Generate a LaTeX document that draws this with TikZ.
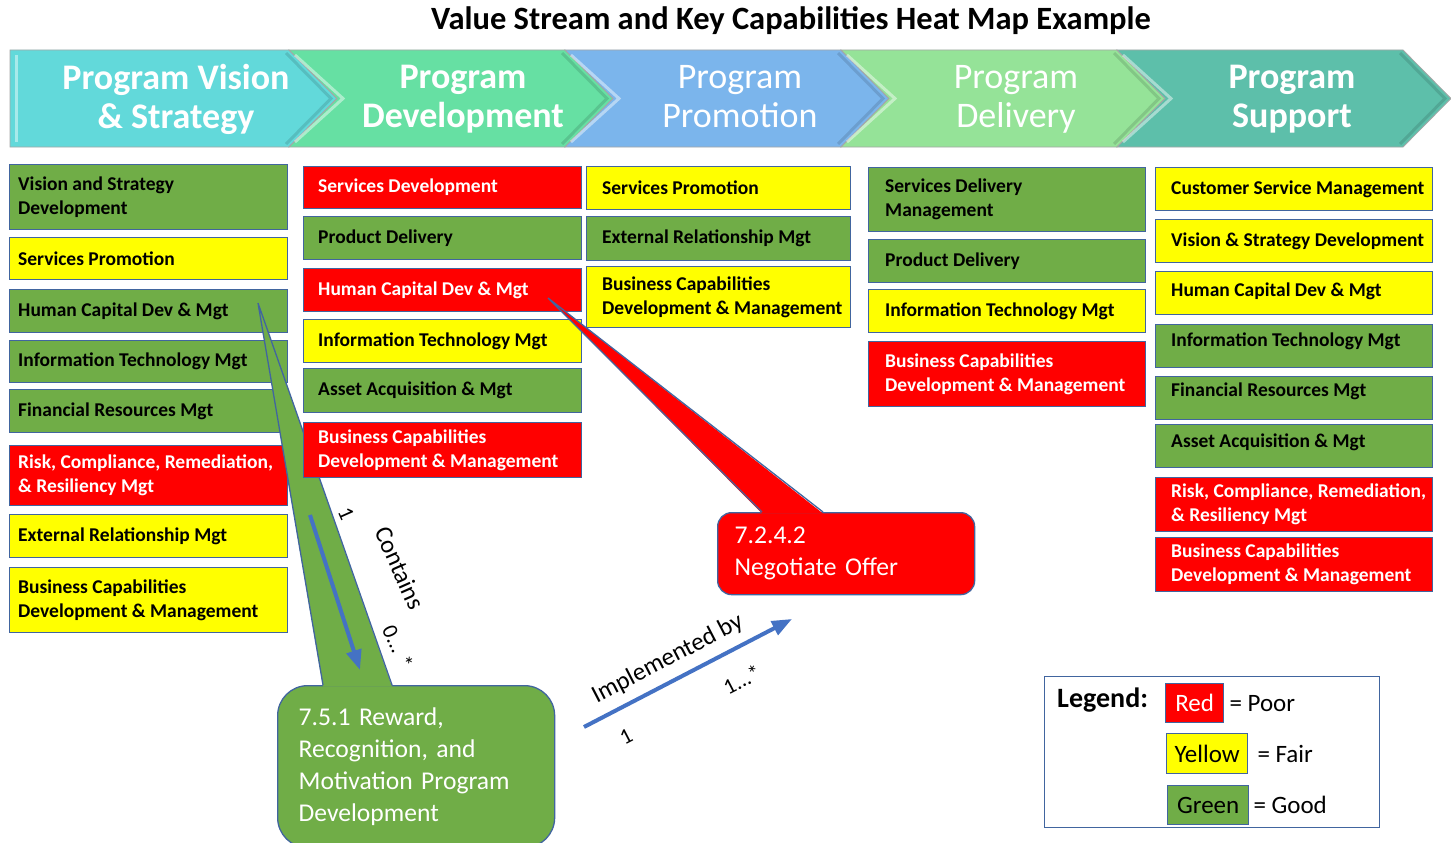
\documentclass[tikz,border=0pt]{standalone}
\usepackage{fontspec}
\setmainfont{Carlito}
\usetikzlibrary{arrows.meta, positioning, calc}
\definecolor{capred}{HTML}{FF0000}
\definecolor{capyellow}{HTML}{FFFF00}
\definecolor{capgreen}{HTML}{70AD47}
\definecolor{boxline}{HTML}{41659F}
\definecolor{arrowblue}{HTML}{4472C4}
\definecolor{chevA}{HTML}{62D9DA}
\definecolor{chevB}{HTML}{66E0A3}
\definecolor{chevC}{HTML}{7BB5EC}
\definecolor{chevD}{HTML}{95E398}
\definecolor{chevE}{HTML}{5DBFAA}
\tikzset{
  capbox/.style={draw=boxline, line width=1.3pt, anchor=north west, inner sep=0pt},
  captxt/.style={anchor=west, align=left, inner sep=0pt, draw=none, fill=none,
    font=\fontsize{19.5}{24}\selectfont\bfseries},
  gn/.style={fill=capgreen, text=black},
  yl/.style={fill=capyellow, text=black},
  rd/.style={fill=capred, text=white},
  stage/.style={text=white, align=center, inner sep=0pt},
  callout/.style={draw=boxline, line width=1.3pt, text=white, align=left,
    anchor=north west, inner ysep=0pt, font=\fontsize{25.6}{32}\selectfont},
  flow/.style={draw=arrowblue, line width=4pt, -{Triangle[length=20pt,width=15pt]}},
  lbl/.style={inner sep=0pt, font=\fontsize{25}{30}\selectfont},
  swatch/.style={draw=boxline, line width=1.3pt, anchor=north west, inner sep=0pt,
    font=\fontsize{25}{30}\selectfont},
}
\begin{document}
\begin{tikzpicture}[x=1pt,y=-1pt]
\useasboundingbox (0,0) rectangle (1451,843);
\clip (0,0) rectangle (1451,843);
\fill[white] (0,0) rectangle (1451,843);
\def\ytop{50}\def\ybot{147}\def\ymid{98.5}\def\dd{48}
\node[font=\fontsize{32.5}{38}\selectfont\bfseries] (title) at (791,21)
  {Value Stream and Key Capabilities Heat Map Example};
% value stream chevrons
\foreach \xl/\xr/\nd/\col/\tx/\fser/\txt [count=\i] in {
  10/289/0/chevA/176/\bfseries/{Program Vision\\\& Strategy},
  289/565/48/chevB/463/\bfseries/{Program\\Development},
  565/841/48/chevC/740/\mdseries/{Program\\Promotion},
  841/1117/48/chevD/1016/\mdseries/{Program\\Delivery},
  1117/1403/48/chevE/1292/\bfseries/{Program\\Support}}{
  \fill[\col, draw=black!35, line width=0.8pt] (\xl,\ytop) -- (\xr,\ytop) -- (\xr+\dd,\ymid)
    -- (\xr,\ybot) -- (\xl,\ybot) -- (\xl+\nd,\ymid) -- cycle;
  \draw[white, opacity=0.45, line width=3pt] (\xl+6,\ytop+5) -- (\xl+\nd+6,\ymid) -- (\xl+6,\ybot-5);
  \draw[black, opacity=0.12, line width=3pt] (\xr-3,\ytop+3) -- (\xr+\dd-6,\ymid) -- (\xr-3,\ybot-3);
  \node[stage, font=\fontsize{36}{39}\selectfont\fser] (stage-\i) at (\tx,\ymid+4) {\txt\strut};}
% column 1: Program Vision & Strategy
\foreach \y/\hh/\col/\txt [count=\i] in {
  164/65/gn/{Vision and Strategy\\Development},
  237/42/yl/{Services Promotion},
  289/43/gn/{Human Capital Dev \& Mgt},
  340/42/gn/{Information Technology Mgt},
  389/43/gn/{Financial Resources Mgt},
  445/60/rd/{Risk, Compliance, Remediation,\\\& Resiliency Mgt},
  514/43/yl/{External Relationship Mgt},
  567/65/yl/{Business Capabilities\\Development \& Management}}{
  \node[capbox, \col, minimum width=278, minimum height=\hh] (vis-\i) at (9,\y) {};
  \node[captxt, \col, fill=none] (vis-\i-t) at ([xshift=9pt]vis-\i.west) {\txt};}
% 7.5.1 callout, pointing at Human Capital Dev & Mgt
\coordinate (gtip) at (258,303);
\node[callout, fill=capgreen, rounded corners=30pt, minimum width=277, minimum height=162,
  text width=235, inner xsep=21pt] (reward) at (277,685)
  {7.5.1 Reward,\\Recognition, and\\Motivation Program\\Development};
\fill[capgreen] ($(reward.north west)+(46,1.5)$) -- (gtip) -- ($(reward.north west)+(115,1.5)$) -- cycle;
\draw[boxline, line width=1.3pt] ($(reward.north west)+(46,0)$) -- (gtip) -- ($(reward.north west)+(115,0)$);
% column 2: Program Development
\foreach \y/\hh/\col/\txt [count=\i] in {
  166/42/rd/{Services Development},
  216/43/gn/{Product Delivery},
  268/43/rd/{Human Capital Dev \& Mgt},
  319/43/yl/{Information Technology Mgt},
  368/44/gn/{Asset Acquisition \& Mgt},
  422/55/rd/{Business Capabilities\\Development \& Management}}{
  \node[capbox, \col, minimum width=278, minimum height=\hh] (dev-\i) at (303,\y) {};
  \node[captxt, \col, fill=none] (dev-\i-t) at ([xshift=15pt]dev-\i.west) {\txt};}
% column 3: Program Promotion
\foreach \y/\hh/\col/\txt [count=\i] in {
  166/43/yl/{Services Promotion},
  216/44/gn/{External Relationship Mgt},
  266/61/yl/{Business Capabilities\\Development \& Management}}{
  \node[capbox, \col, minimum width=264, minimum height=\hh] (promo-\i) at (586,\y) {};
  \node[captxt, \col, fill=none] (promo-\i-t) at ([xshift=16pt]promo-\i.west) {\txt};}
% column 4: Program Delivery
\foreach \y/\hh/\col/\txt [count=\i] in {
  167/64/gn/{Services Delivery\\Management},
  239/43/gn/{Product Delivery},
  289/43/yl/{Information Technology Mgt},
  341/65/rd/{Business Capabilities\\Development \& Management}}{
  \node[capbox, \col, minimum width=277, minimum height=\hh] (deliv-\i) at (868,\y) {};
  \node[captxt, \col, fill=none] (deliv-\i-t) at ([xshift=17pt]deliv-\i.west) {\txt};}
% column 5: Program Support
\foreach \y/\hh/\dy/\col/\txt [count=\i] in {
  167/43/0/yl/{Customer Service Management},
  219/43/0/yl/{Vision \& Strategy Development},
  271/43/2/yl/{Human Capital Dev \& Mgt},
  324/43/5/gn/{Information Technology Mgt},
  376/43/7/gn/{Financial Resources Mgt},
  424/43/4/gn/{Asset Acquisition \& Mgt},
  477/54/0/rd/{Risk, Compliance, Remediation,\\\& Resiliency Mgt},
  537/54/0/rd/{Business Capabilities\\Development \& Management}}{
  \node[capbox, \col, minimum width=277, minimum height=\hh] (supp-\i) at (1155,\y) {};
  \node[captxt, \col, fill=none] (supp-\i-t) at ([xshift=16pt,yshift=\dy pt]supp-\i.west) {\txt};}
% 7.2.4.2 callout, pointing at Human Capital Dev & Mgt
\coordinate (rtip) at (548,298);
\node[callout, fill=capred, rounded corners=14pt, minimum width=257, minimum height=82,
  text width=223, inner xsep=17pt] (offer) at (717,512) {7.2.4.2\\Negotiate Offer};
\fill[capred] ($(offer.north west)+(45,1.5)$) -- (rtip) -- ($(offer.north west)+(106,1.5)$) -- cycle;
\draw[boxline, line width=1.3pt] ($(offer.north west)+(45,0)$) -- (rtip) -- ($(offer.north west)+(106,0)$);
% relations
\coordinate (cont-a) at (310,515);
\coordinate (cont-b) at (360,670);
\draw[flow] (cont-a) -- (cont-b);
\node[lbl, rotate=-66, font=\fontsize{22}{26}\selectfont] (cont-one) at (346,514) {1};
\node[lbl, rotate=-66] (cont-txt) at (400,568) {Contains};
\node[lbl, rotate=-66, font=\fontsize{22}{26}\selectfont] (cont-many) at (398,647) {0... *};
\coordinate (impl-a) at (584,727);
\coordinate (impl-b) at (792,619);
\draw[flow] (impl-a) -- (impl-b)
  node[lbl, pos=0.45, sloped, above=9pt] (impl-txt) {Implemented by}
  node[lbl, pos=0.14, sloped, below=19pt, font=\fontsize{22}{26}\selectfont] (impl-one) {1}
  node[lbl, pos=0.69, sloped, below=21pt, font=\fontsize{22}{26}\selectfont] (impl-many) {1...*};
% legend
\node[draw=boxline, line width=1.3pt, fill=white, anchor=north west, minimum width=335,
  minimum height=151] (legend) at (1044,676) {};
\node[anchor=west, inner sep=0pt, font=\fontsize{28}{34}\selectfont\bfseries] (legend-t) at (1057,700) {Legend:};
\node[swatch, fill=capred, text=white, minimum width=58, minimum height=39] (sw-red) at (1165,683) {Red};
\node[swatch, fill=capyellow, minimum width=81, minimum height=40] (sw-yellow) at (1166,733) {Yellow};
\node[swatch, fill=capgreen, minimum width=81, minimum height=39] (sw-green) at (1167,785) {Green};
\node[lbl, right=5pt of sw-red] (poor) {= Poor};
\node[lbl, right=9pt of sw-yellow] (fair) {= Fair};
\node[lbl, right=4pt of sw-green] (good) {= Good};
\end{tikzpicture}
\end{document}
